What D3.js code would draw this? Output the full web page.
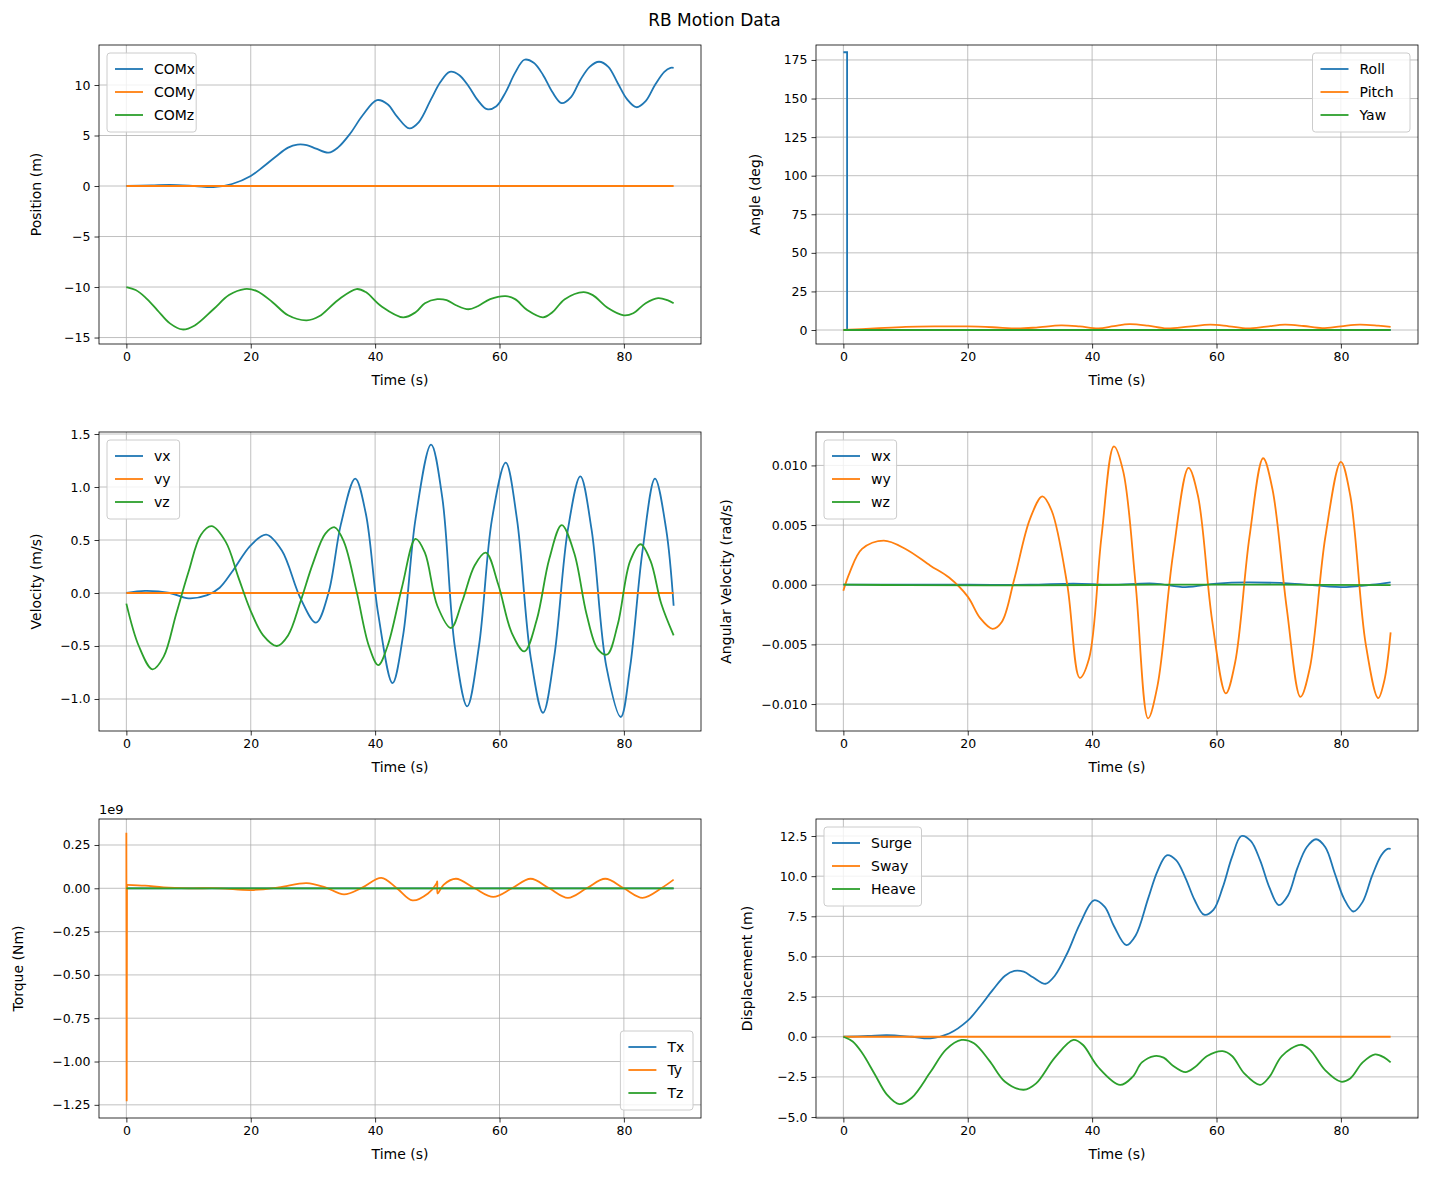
<!DOCTYPE html>
<html lang="en">
<head>
<meta charset="UTF-8" />
<title>RB Motion Data</title>
<style>
  html, body { margin: 0; padding: 0; background: #fff; }
  svg { font-family: "DejaVu Sans", sans-serif; }
  .grid line { stroke: #b0b0b0; stroke-width: 0.8; }
</style>
</head>
<body>
<svg width="1429" height="1184"></svg>
<script src="https://d3js.org/d3.v7.min.js"></script>
<script>
const C = ["#1f77b4", "#ff7f0e", "#2ca02c"];

// ---- data: [time (s), value] ----
const comX = [[0,0],[4,0.05],[7,0.1],[11,0],[14,-0.1],[17,0.2],[20,1],[22,1.9],[24,2.9],[26,3.8],[27.5,4.1],[29,4.05],[30.5,3.7],[32.5,3.3],[34,3.8],[36,5.2],[38,7],[40.3,8.5],[42,8.1],[43.5,6.9],[45.5,5.7],[47,6.3],[49,8.6],[50.5,10.3],[52,11.3],[53.5,11],[55,9.9],[56.5,8.5],[58,7.6],[59.5,7.9],[61,9.3],[62.5,11.2],[64,12.5],[65.5,12.2],[67,11],[68.5,9.3],[70,8.2],[71.5,8.8],[73,10.5],[74.5,11.8],[76,12.3],[77.5,11.8],[79,10.2],[80.5,8.6],[82,7.8],[83.5,8.4],[85,10],[86.5,11.3],[87.5,11.7],[88,11.7]];
const comY = [[0,0],[88,0]];
const comZ = [[0,-10],[1.5,-10.3],[3,-11],[5,-12.3],[7,-13.6],[9,-14.2],[11,-13.8],[14,-12.2],[16.5,-10.8],[19,-10.2],[21,-10.4],[23.5,-11.5],[26,-12.8],[29,-13.3],[31,-12.9],[34,-11.3],[37,-10.2],[38.5,-10.5],[41,-11.9],[44.5,-13],[46.5,-12.5],[48,-11.6],[50,-11.2],[51.5,-11.3],[53,-11.8],[55,-12.2],[56.5,-11.9],[58.5,-11.2],[61,-10.9],[62.5,-11.2],[64.5,-12.3],[67,-13],[68.5,-12.5],[70.5,-11.2],[73.5,-10.5],[75,-10.8],[77.5,-12.1],[80,-12.8],[81.5,-12.6],[83.5,-11.6],[85.5,-11.1],[87,-11.3],[88,-11.6]];

const roll = [[0,180],[0.6,180],[0.6,0],[88,0]];
const pitch = [[0,0],[5,1],[10,2],[15,2.3],[20,2.3],[24,1.8],[28,1],[31,1.6],[35,3],[38,2.3],[41,1],[43.5,2.5],[46,3.8],[49,2.8],[52,1],[55.5,2.2],[59,3.5],[62,2.4],[65,1],[68,2.2],[71,3.5],[74,2.6],[77,1.2],[80,2.4],[83,3.5],[86,2.8],[88,2]];
const yaw = [[0,0],[88,0]];

const vx = [[0,0],[3,0.02],[7,0],[10,-0.05],[13,-0.02],[15,0.05],[17,0.2],[20,0.45],[22.5,0.55],[25,0.4],[28,-0.05],[30.5,-0.28],[32.5,0],[34.5,0.65],[36.8,1.08],[38.5,0.75],[40.5,-0.2],[42.8,-0.85],[44.5,-0.4],[46.5,0.7],[49,1.4],[50.8,0.9],[52.8,-0.5],[54.8,-1.07],[56.7,-0.5],[58.8,0.7],[61,1.23],[62.8,0.7],[65,-0.6],[67,-1.13],[68.8,-0.6],[71,0.6],[73,1.1],[74.8,0.6],[77.2,-0.7],[79.5,-1.17],[81,-0.7],[83,0.4],[85,1.08],[86.8,0.6],[88,-0.12]];
const vy = [[0,0],[88,0]];
const vz = [[0,-0.1],[2,-0.5],[4.2,-0.72],[6,-0.6],[8,-0.2],[10,0.2],[12,0.55],[13.7,0.63],[16,0.48],[18,0.15],[20,-0.17],[22,-0.4],[24.2,-0.5],[26,-0.4],[28,-0.08],[30,0.28],[32,0.56],[33.5,0.62],[35,0.48],[37,0.02],[39,-0.5],[40.5,-0.68],[42,-0.5],[44.3,0.05],[46.5,0.51],[48,0.38],[50,-0.12],[52.2,-0.33],[54,-0.08],[56,0.26],[57.8,0.38],[59.8,0.08],[62,-0.38],[64,-0.55],[66,-0.25],[68,0.32],[70,0.64],[72,0.38],[74,-0.2],[75.8,-0.53],[77.3,-0.58],[79,-0.3],[81,0.3],[82.7,0.46],[84.3,0.3],[86,-0.1],[88,-0.4]];

const wx = [[0,0],[20,0],[30,0],[37,0.0001],[43,0],[50,0.0001],[55,-0.0002],[60,0.0001],[65,0.0002],[72,0.0001],[80,-0.0002],[85,0],[88,0.0002]];
const wy = [[0,-0.0005],[1,0.001],[3,0.003],[6.5,0.0037],[10,0.003],[14,0.0016],[17,0.0006],[20,-0.001],[22,-0.0028],[24,-0.0037],[25.5,-0.0031],[27.5,0.0005],[30,0.0055],[32,0.0074],[33.5,0.0062],[36,0],[38,-0.0078],[39.5,-0.0062],[41.5,0.004],[43.5,0.0116],[45,0.0095],[47,0],[49,-0.0112],[50.5,-0.0085],[53,0.0025],[55.5,0.0098],[57,0.0075],[59.3,-0.003],[61.5,-0.0091],[63,-0.0065],[65.3,0.004],[67.5,0.0106],[69,0.008],[71.3,-0.002],[73.5,-0.0094],[75,-0.007],[77.5,0.004],[80,0.0103],[81.5,0.0075],[84,-0.005],[86,-0.0095],[87,-0.008],[88,-0.004]];
const wz = [[0,0],[10,-0.00003],[30,-0.00005],[50,0],[70,0],[88,-0.00003]];

const tx = [[0,0],[88,0]];
// Ty: start-up spike (drawn straight), then a smooth ripple (values in 1e9 Nm)
const tySpike = [[0,0.32],[0.05,-1.23],[0.1,0.02]];
const tyRipple = [[0.1,0.02],[3,0.015],[6,0.005],[10,0],[15,0],[20,-0.01],[24.5,0.005],[29,0.03],[32,0.005],[35,-0.035],[38,0.005],[41,0.06],[43.5,0],[46,-0.07],[48.5,-0.03],[49.9,0.03],[50,0.04],[50.05,-0.03],[51,0.02],[53,0.055],[56,0],[59,-0.05],[62,0],[65,0.055],[68,0],[71,-0.055],[74,0],[77,0.055],[80,0],[83,-0.055],[86,0],[88,0.05]];
const tz = [[0,0],[88,0]];

const surge = comX;
const sway = [[0,0],[88,0]];
const heave = comZ.map(d => [d[0], d[1] + 10]);

const xTicks = [0, 20, 40, 60, 80];
const panels = [
  { x: 99, y: 45, yDom: [-15.64, 13.96], yTicks: [-15,-10,-5,0,5,10], fmt: d3.format("d"), label: "Position (m)", lx: 36,
    series: [["COMx", [comX]], ["COMy", [comY]], ["COMz", [comZ]]], legend: "ul" },
  { x: 816, y: 45, yDom: [-9.07, 184.7], yTicks: [0,25,50,75,100,125,150,175], fmt: d3.format("d"), label: "Angle (deg)", lx: 755,
    series: [["Roll", [roll], true], ["Pitch", [pitch]], ["Yaw", [yaw]]], legend: "ur" },
  { x: 99, y: 432, yDom: [-1.302, 1.519], yTicks: [-1,-0.5,0,0.5,1,1.5], fmt: d3.format(".1f"), label: "Velocity (m/s)", lx: 36,
    series: [["vx", [vx]], ["vy", [vy]], ["vz", [vz]]], legend: "ul" },
  { x: 816, y: 432, yDom: [-0.01226, 0.0128], yTicks: [-0.01,-0.005,0,0.005,0.01], fmt: d3.format(".3f"), label: "Angular Velocity (rad/s)", lx: 726,
    series: [["wx", [wx]], ["wy", [wy]], ["wz", [wz]]], legend: "ul" },
  { x: 99, y: 819, yDom: [-1.326, 0.40], yTicks: [-1.25,-1,-0.75,-0.5,-0.25,0,0.25], fmt: d3.format(".2f"), label: "Torque (Nm)", lx: 18,
    series: [["Tx", [tx]], ["Ty", [tySpike, tyRipple]], ["Tz", [tz]]], legend: "lr", offset: "1e9" },
  { x: 816, y: 819, yDom: [-5.06, 13.56], yTicks: [-5,-2.5,0,2.5,5,7.5,10,12.5], fmt: d3.format(".1f"), label: "Displacement (m)", lx: 747,
    series: [["Surge", [surge]], ["Sway", [sway]], ["Heave", [heave]]], legend: "ul" }
];
const W = 602, H = 299;

const svg = d3.select("svg");
svg.append("text").attr("x", 714.5).attr("y", 26).attr("text-anchor", "middle")
  .attr("font-size", 17).text("RB Motion Data");

panels.forEach(p => {
  const g = svg.append("g").attr("transform", `translate(${p.x},${p.y})`);
  const x = d3.scaleLinear().domain([-4.4, 92.4]).range([0, W]);
  const y = d3.scaleLinear().domain(p.yDom).range([H, 0]);

  g.append("g").attr("class", "grid").selectAll("line").data(xTicks).join("line")
    .attr("x1", d => x(d)).attr("x2", d => x(d)).attr("y1", 0).attr("y2", H);
  g.append("g").attr("class", "grid").selectAll("line").data(p.yTicks).join("line")
    .attr("y1", d => y(d)).attr("y2", d => y(d)).attr("x1", 0).attr("x2", W);

  const clip = "clip" + p.x + p.y;
  g.append("clipPath").attr("id", clip).append("rect").attr("width", W).attr("height", H);

  p.series.forEach(([name, parts, linear], i) => {
    parts.forEach((data, k) => {
      // the spike segment of a split series is drawn straight
      const straight = linear || (parts.length > 1 && k === 0);
      const line = d3.line().x(d => x(d[0])).y(d => y(d[1]))
        .curve(straight ? d3.curveLinear : d3.curveCatmullRom.alpha(0.5));
      g.append("path").datum(data).attr("clip-path", `url(#${clip})`)
        .attr("fill", "none").attr("stroke", C[i]).attr("stroke-width", 1.8).attr("d", line);
    });
  });

  const xa = g.append("g").attr("transform", `translate(0,${H})`)
    .call(d3.axisBottom(x).tickValues(xTicks).tickSize(4.5).tickPadding(4).tickFormat(d3.format("d")));
  const ya = g.append("g").call(d3.axisLeft(y).tickValues(p.yTicks).tickSize(4.5).tickPadding(4)
    .tickFormat(d => p.fmt(d).replace("-", "\u2212")));
  [xa, ya].forEach(a => {
    a.attr("font-size", 12.5).attr("font-family", "DejaVu Sans");
    a.select(".domain").remove();
    a.selectAll(".tick line").attr("stroke", "#000").attr("stroke-width", 0.8);
  });

  g.append("rect").attr("width", W).attr("height", H).attr("fill", "none").attr("stroke", "#000").attr("stroke-width", 0.8);

  g.append("text").attr("x", W / 2).attr("y", H + 41).attr("text-anchor", "middle").attr("font-size", 14).text("Time (s)");
  g.append("text").attr("transform", `translate(${p.lx - p.x + 5},${H / 2}) rotate(-90)`)
    .attr("text-anchor", "middle").attr("font-size", 14).text(p.label);
  if (p.offset) g.append("text").attr("x", 0).attr("y", -5).attr("font-size", 13).text(p.offset);

  // legend
  const names = p.series.map(s => s[0]);
  const lw = 24 + 28 + 4 + d3.max(names, n => n.length * 8.3);
  const lh = 3 * 23 + 10;
  let lx0 = 8, ly0 = 8;
  if (p.legend === "ur") lx0 = W - 8 - lw;
  if (p.legend === "lr") { lx0 = W - 8 - lw; ly0 = H - 8 - lh; }
  const lg = g.append("g").attr("transform", `translate(${lx0},${ly0})`);
  lg.append("rect").attr("width", lw).attr("height", lh).attr("rx", 3)
    .attr("fill", "#fff").attr("fill-opacity", 0.8).attr("stroke", "#ccc");
  names.forEach((n, i) => {
    const cy = 16 + i * 23;
    lg.append("line").attr("x1", 8).attr("x2", 36).attr("y1", cy).attr("y2", cy)
      .attr("stroke", C[i]).attr("stroke-width", 1.8);
    lg.append("text").attr("x", 47).attr("y", cy + 5).attr("font-size", 14).text(n);
  });
});
</script>
</body>
</html>
